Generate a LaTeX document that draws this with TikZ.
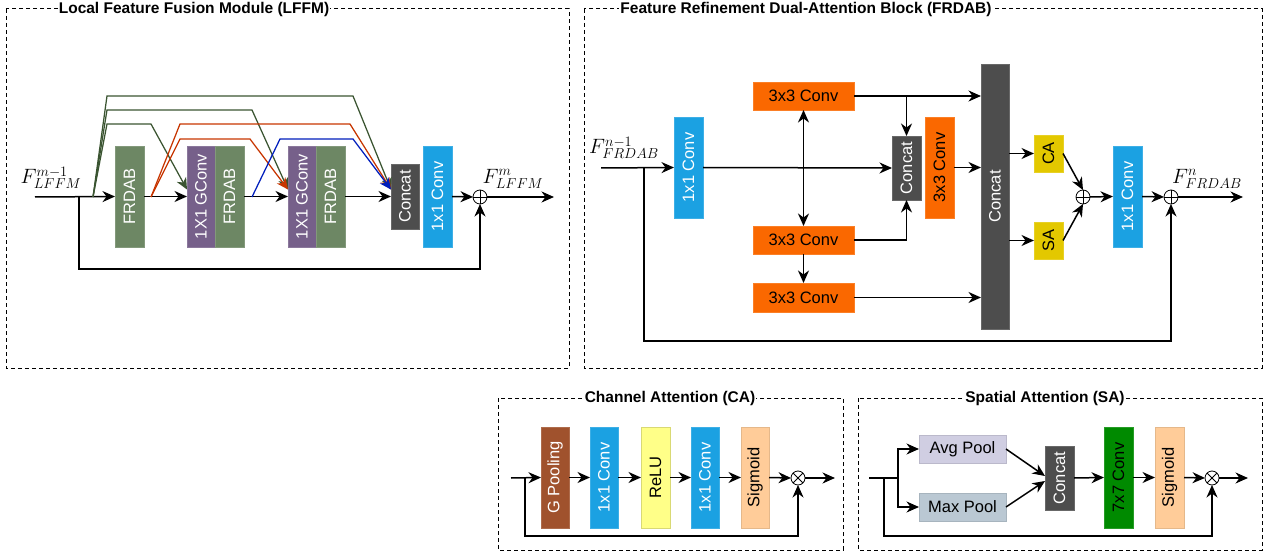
\documentclass[tikz,border=0pt]{standalone}
\usepackage{fontspec}
\setmainfont{Liberation Sans}
\usetikzlibrary{arrows.meta,calc}
\definecolor{cfrdab}{HTML}{6D8764}
\definecolor{cgconv}{HTML}{76608A}
\definecolor{cconcat}{HTML}{4D4D4D}
\definecolor{cblue}{HTML}{1BA1E2}
\definecolor{corange}{HTML}{FA6800}
\definecolor{cyellow}{HTML}{E3C800}
\definecolor{cbrown}{HTML}{A0522D}
\definecolor{crelu}{HTML}{FFFF88}
\definecolor{csig}{HTML}{FFCC99}
\definecolor{cgreen}{HTML}{008A00}
\definecolor{cavg}{HTML}{D0CEE2}
\definecolor{cmax}{HTML}{BAC8D3}
\definecolor{lgreen}{HTML}{3A5431}
\definecolor{lorange}{HTML}{C73500}
\definecolor{lblue}{HTML}{001DBC}
\begin{document}
\begin{tikzpicture}[x=1pt,y=-1pt,
  box/.style={rectangle, inner sep=0pt, outer sep=0pt, line width=0.6pt, font=\fontsize{16.5}{19}\selectfont},
  vb/.style={box, minimum width=29, minimum height=101},
  frdabbox/.style={vb, fill=cfrdab, draw=cfrdab!85!white, text=white},
  gconvbox/.style={vb, minimum width=28, fill=cgconv, draw=cgconv!85!white, text=white},
  bluebox/.style={vb, fill=cblue, draw=cblue!85!white, text=white},
  concatbox/.style={box, fill=cconcat, draw=cconcat!85!white, text=white},
  orangebox/.style={box, fill=corange, draw=corange!85!white, text=black},
  yelbox/.style={box, minimum width=29, minimum height=37, fill=cyellow, draw=cyellow!85!white, text=black},
  arr/.style={line width=1.5pt, -{Stealth[length=12.5pt,width=11pt,inset=4pt]}},
  plain/.style={line width=1.5pt},
  darr/.style={line width=1.5pt, {Stealth[length=12.5pt,width=11pt,inset=4pt]}-{Stealth[length=12.5pt,width=11pt,inset=4pt]}},
  carr/.style={line width=1.25pt, -{Stealth[length=11.5pt,width=10.5pt,inset=3.5pt]}},
  frame/.style={line width=1pt, dash pattern=on 4pt off 3pt},
  ttl/.style={fill=white, inner xsep=1pt, inner ysep=1pt, font=\fontsize{15.5}{18}\selectfont\bfseries},
  mlbl/.style={inner sep=0pt, font=\fontsize{20}{23}\selectfont},
  opl/.style={circle, draw, line width=0.8pt, minimum size=14pt, inner sep=0pt, outer sep=0pt, fill=white,
    path picture={\draw[line width=0.8pt] (path picture bounding box.north) -- (path picture bounding box.south)
      (path picture bounding box.west) -- (path picture bounding box.east);}},
  otm/.style={circle, draw, line width=0.8pt, minimum size=14pt, inner sep=0pt, outer sep=0pt, fill=white,
    path picture={\draw[line width=0.8pt] (path picture bounding box.north west) -- (path picture bounding box.south east)
      (path picture bounding box.south west) -- (path picture bounding box.north east);}}
]
\useasboundingbox (0,0) rectangle (1269,556);

% ---------------- frames ----------------
\draw[frame] (6,9) rectangle (569,368);
\draw[frame] (584,9) rectangle (1262,368);
\draw[frame] (498,398) rectangle (843,550);
\draw[frame] (858,398) rectangle (1262,550);
\node[ttl] (t1) at (194,9) {Local Feature Fusion Module (LFFM)};
\node[ttl] (t2) at (806,9) {Feature Refinement Dual-Attention Block (FRDAB)};
\node[ttl] (t3) at (670,398) {Channel Attention (CA)};
\node[ttl] (t4) at (1045,398) {Spatial Attention (SA)};

% ---------------- LFFM ----------------
\node[frdabbox] (f1) at (129.5,196.5) {\rotatebox{90}{FRDAB}};
\node[gconvbox] (g1) at (201,196.5) {\rotatebox{90}{1X1 GConv}};
\node[frdabbox] (f2) at (229.5,196.5) {\rotatebox{90}{FRDAB}};
\node[gconvbox] (g2) at (302,196.5) {\rotatebox{90}{1X1 GConv}};
\node[frdabbox] (f3) at (330.5,196.5) {\rotatebox{90}{FRDAB}};
\node[concatbox, minimum width=28, minimum height=65] (cc1) at (405,196.5) {\rotatebox{90}{Concat}};
\node[bluebox] (cv1) at (437.5,196.5) {\rotatebox{90}{1x1 Conv}};
\node[opl] (op1) at (480,197) {};
\node[mlbl] (lil) at (51,178) {$F^{m-1}_{LFFM}$};
\node[mlbl] (lol) at (513,179) {$F^{m}_{LFFM}$};
\coordinate (lin) at (35,197);
\coordinate (lout) at (554,197);
\coordinate (lby) at (79,197);
\coordinate (lbb) at (79,269);
\coordinate (gs) at (93,197);
\coordinate (os) at (151,197);
\coordinate (bs) at (252,197);

\draw[arr] (lin) -- (f1.west);
\draw[arr] (f1.east) -- (g1.west);
\draw[arr] (f2.east) -- (g2.west);
\draw[arr] (f3.east) -- (cc1.west);
\draw[arr] (cv1.east) -- (op1.west);
\draw[arr] (op1.east) -- (lout);
\draw[arr] (lby) -- (lbb) -| (op1.south);

\draw[carr, lgreen] (gs) -- (107,124) -- (151,124) -- ($(g1.west)+(0,-7)$);
\draw[carr, lgreen] (gs) -- (107,110) -- (252,110) -- ($(g2.west)+(0,-7)$);
\draw[carr, lgreen] (gs) -- (107,96) -- (353,96) -- ($(cc1.west)+(0,-7)$);
\draw[carr, lorange] (os) -- (180,139) -- (250,139) -- ($(g2.west)+(0,-7)$);
\draw[carr, lorange] (os) -- (180,124) -- (350,124) -- ($(cc1.west)+(0,-7)$);
\draw[carr, lblue] (bs) -- (280,139) -- (353,139) -- ($(cc1.west)+(0,-7)$);

% ---------------- FRDAB ----------------
\node[bluebox] (r1) at (688.5,167.5) {\rotatebox{90}{1x1 Conv}};
\node[orangebox, minimum width=101, minimum height=28] (ct) at (803.5,96) {3x3 Conv};
\node[orangebox, minimum width=101, minimum height=28] (cm) at (803.5,240) {3x3 Conv};
\node[orangebox, minimum width=101, minimum height=29] (cb) at (803.5,297.5) {3x3 Conv};
\node[concatbox, minimum width=29, minimum height=64] (sc) at (906.5,168) {\rotatebox{90}{Concat}};
\node[orangebox, minimum width=29, minimum height=101] (c3v) at (939.5,167.5) {\rotatebox{90}{3x3 Conv}};
\node[concatbox, minimum width=28, minimum height=265] (bc) at (995,196.5) {\rotatebox{90}{Concat}};
\node[yelbox] (ca) at (1048.5,153.5) {\rotatebox{90}{CA}};
\node[yelbox] (sa) at (1048.5,240.5) {\rotatebox{90}{SA}};
\node[opl] (op2) at (1083,197) {};
\node[bluebox] (r2) at (1127.5,196.5) {\rotatebox{90}{1x1 Conv}};
\node[opl] (op3) at (1171,197) {};
\node[mlbl] (ril) at (624,148) {$F^{n-1}_{FRDAB}$};
\node[mlbl] (rol) at (1207,179) {$F^{n}_{FRDAB}$};
\coordinate (rin) at (601,168);
\coordinate (rby) at (644,168);
\coordinate (rbb) at (644,341);
\coordinate (rout) at (1243,197);

\draw[arr] (rin) -- (r1.west);
\draw[arr] (r1.east) -- (sc.west);
\draw[darr] (ct.south) -- (cm.north);
\draw[arr] (cm.south) -- (cb.north);
\draw[arr] (ct.east) -- (ct.east -| bc.west);
\draw[arr] (ct.east -| sc.north) -- (sc.north);
\draw[arr] (cm.east) -| (sc.south);
\draw[arr] (cb.east) -- (cb.east -| bc.west);
\draw[arr] (c3v.east) -- (c3v.east -| bc.west);
\draw[arr] (ca.west -| bc.east) -- (ca.west);
\draw[arr] (sa.west -| bc.east) -- (sa.west);
\draw[arr] (ca.east) -- (op2.north);
\draw[arr] (sa.east) -- (op2.south);
\draw[arr] (op2.east) -- (r2.west);
\draw[arr] (r2.east) -- (op3.west);
\draw[arr] (op3.east) -- (rout);
\draw[arr] (rby) -- (rbb) -| (op3.south);

% ---------------- CA ----------------
\node[vb, minimum width=28, fill=cbrown, draw=cbrown!85!white, text=white] (gp) at (555,477.5) {\rotatebox{90}{G Pooling}};
\node[bluebox, minimum width=28] (k1) at (604,477.5) {\rotatebox{90}{1x1 Conv}};
\node[vb, fill=crelu, draw=crelu!85!black, text=black] (rl) at (655.5,477.5) {\rotatebox{90}{ReLU}};
\node[bluebox, minimum width=28] (k2) at (705,477.5) {\rotatebox{90}{1x1 Conv}};
\node[vb, minimum width=28, fill=csig, draw=csig!90!black, text=black] (sg) at (755,477.5) {\rotatebox{90}{Sigmoid}};
\node[otm] (ot1) at (798,478) {};
\coordinate (cain) at (511,478);
\coordinate (caby) at (525,478);
\coordinate (cabb) at (525,536);
\coordinate (caout) at (835,478);
\draw[arr] (cain) -- (gp.west);
\draw[arr] (gp.east) -- (k1.west);
\draw[arr] (k1.east) -- (rl.west);
\draw[arr] (rl.east) -- (k2.west);
\draw[arr] (k2.east) -- (sg.west);
\draw[arr] (sg.east) -- (ot1.west);
\draw[arr] (ot1.east) -- (caout);
\draw[arr] (caby) -- (cabb) -| (ot1.south);

% ---------------- SA ----------------
\node[box, minimum width=87, minimum height=28, fill=cavg, draw=cavg!90!black, text=black] (av) at (962.5,449) {Avg Pool};
\node[box, minimum width=87, minimum height=28, fill=cmax, draw=cmax!90!black, text=black] (mx) at (962.5,507) {Max Pool};
\node[concatbox, minimum width=29, minimum height=64] (sc2) at (1059.5,478) {\rotatebox{90}{Concat}};
\node[vb, fill=cgreen, draw=cgreen!85!white, text=black] (k7) at (1118.5,477.5) {\rotatebox{90}{7x7 Conv}};
\node[vb, fill=csig, draw=csig!90!black, text=black] (sg2) at (1169.5,477.5) {\rotatebox{90}{Sigmoid}};
\node[otm] (ot2) at (1212,478) {};
\coordinate (sain) at (869,478);
\coordinate (sabr) at (898,478);
\coordinate (saby) at (884,478);
\coordinate (sabb) at (884,536);
\coordinate (saout) at (1248,478);
\draw[plain] (sain) -- (sabr);
\draw[arr] (sabr) |- (av.west);
\draw[arr] (sabr) |- (mx.west);
\draw[arr] (av.east) -- ($(sc2.west)+(0,-2)$);
\draw[arr] (mx.east) -- ($(sc2.west)+(0,3)$);
\draw[arr] (sc2.east) -- (k7.west);
\draw[arr] (k7.east) -- (sg2.west);
\draw[arr] (sg2.east) -- (ot2.west);
\draw[arr] (ot2.east) -- (saout);
\draw[arr] (saby) -- (sabb) -| (ot2.south);
\end{tikzpicture}
\end{document}
